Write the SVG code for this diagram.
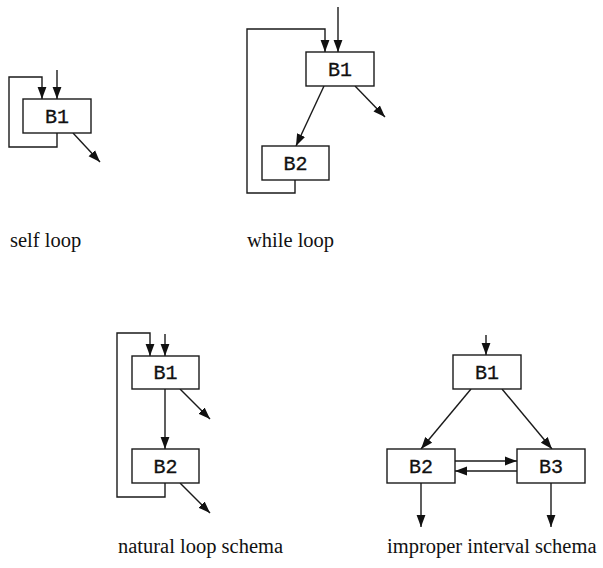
<svg xmlns="http://www.w3.org/2000/svg" width="603" height="568" viewBox="0 0 603 568">
  <defs>
    <marker id="arrow" markerUnits="userSpaceOnUse" markerWidth="12" markerHeight="10" viewBox="0 0 12 10" refX="12" refY="5" orient="auto">
      <path d="M0,0.6 L12,5 L0,9.4 Z" fill="#111"/>
    </marker>
    <style>
      rect.block { fill: #fff; stroke: #1a1a1a; stroke-width: 1.4; }
      text.blabel { font-family: "Liberation Mono", "DejaVu Sans Mono", monospace; font-size: 20px; fill: #111; text-anchor: middle; stroke: #111; stroke-width: 0.3; }
      text.caption { font-family: "Liberation Serif", "Times New Roman", serif; font-size: 20.5px; fill: #111; }
      #edges path { fill: none; stroke: #1a1a1a; stroke-width: 1.4; }
      #edges path.arr { marker-end: url(#arrow); }
    </style>
  </defs>

  <rect width="603" height="568" fill="#fff"/>

  <!-- connectors -->
  <g id="edges">
    <!-- self loop -->
    <path class="arr" d="M57,70 V99"/>
    <path class="arr" d="M57,133 V147 H9 V77 H42 V99"/>
    <path class="arr" d="M73,133 L100,162"/>
    <!-- while loop -->
    <path class="arr" d="M338,7 V52"/>
    <path class="arr" d="M295,180 V193 H247 V29 H325 V52"/>
    <path class="arr" d="M324,86 L296,146"/>
    <path class="arr" d="M355,86 L385,117"/>
    <!-- natural loop schema -->
    <path class="arr" d="M165,334 V356"/>
    <path class="arr" d="M165,483 V497 H117 V333 H150 V356"/>
    <path class="arr" d="M165,389 V449"/>
    <path class="arr" d="M180,389 L210,419"/>
    <path class="arr" d="M180,483 L210,513"/>
    <!-- improper interval schema -->
    <path class="arr" d="M486,335 V355"/>
    <path class="arr" d="M471,389 L421,449"/>
    <path class="arr" d="M502,389 L552,449"/>
    <path class="arr" d="M455,461 H517"/>
    <path class="arr" d="M517,471 H455"/>
    <path class="arr" d="M421,483 V527"/>
    <path class="arr" d="M551,483 V527"/>
  </g>

  <!-- self loop -->
  <g id="self-b1">
    <rect class="block" x="23" y="99" width="68" height="34"/>
    <text class="blabel" x="57" y="123">B1</text>
  </g>

  <!-- while loop -->
  <g id="while-b1">
    <rect class="block" x="306" y="52" width="68" height="34"/>
    <text class="blabel" x="340" y="76">B1</text>
  </g>
  <g id="while-b2">
    <rect class="block" x="262" y="146" width="67" height="34"/>
    <text class="blabel" x="295.5" y="170">B2</text>
  </g>

  <!-- natural loop schema -->
  <g id="natural-b1">
    <rect class="block" x="132" y="356" width="67" height="33"/>
    <text class="blabel" x="165.5" y="379">B1</text>
  </g>
  <g id="natural-b2">
    <rect class="block" x="132" y="449" width="67" height="34"/>
    <text class="blabel" x="165.5" y="473">B2</text>
  </g>

  <!-- improper interval schema -->
  <g id="improper-b1">
    <rect class="block" x="453" y="355" width="68" height="34"/>
    <text class="blabel" x="487" y="379">B1</text>
  </g>
  <g id="improper-b2">
    <rect class="block" x="387" y="449" width="68" height="34"/>
    <text class="blabel" x="421" y="473">B2</text>
  </g>
  <g id="improper-b3">
    <rect class="block" x="517" y="449" width="68" height="34"/>
    <text class="blabel" x="551" y="473">B3</text>
  </g>

  <!-- captions -->
  <g id="captions">
    <text class="caption" x="10" y="247">self loop</text>
    <text class="caption" x="247" y="247">while loop</text>
    <text class="caption" x="118" y="553">natural loop schema</text>
    <text class="caption" x="387" y="553">improper interval schema</text>
  </g>
</svg>
